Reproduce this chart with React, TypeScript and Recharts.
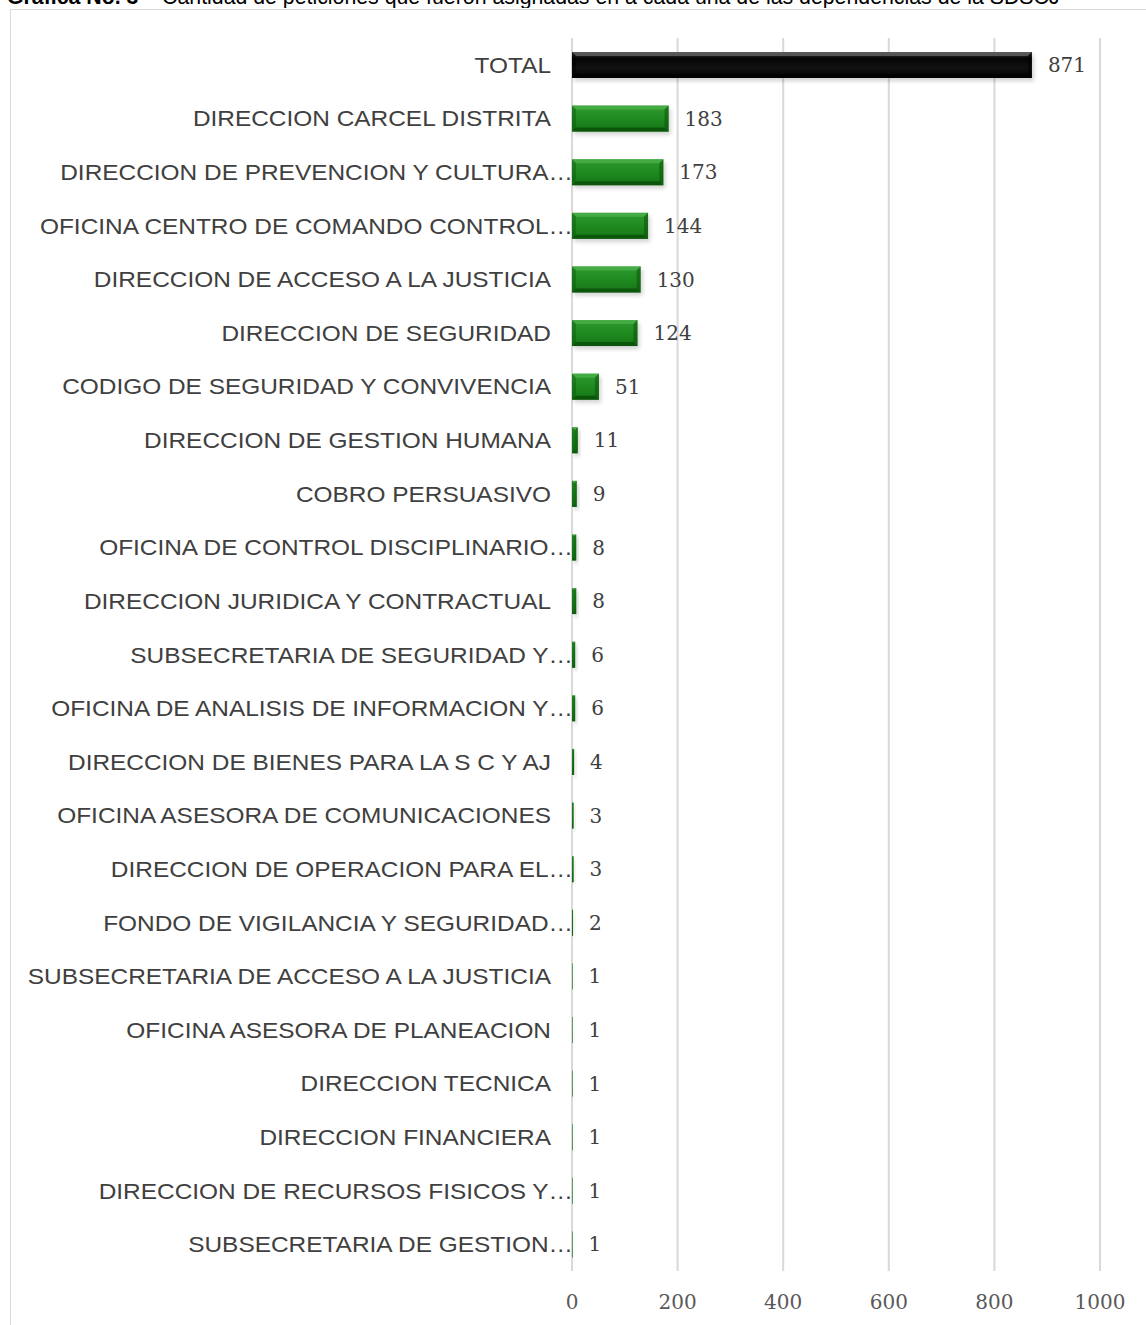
import React from 'react';
import { BarChart, Bar, XAxis, YAxis, CartesianGrid, Cell, LabelList } from 'recharts';

const dependencias = [
  'TOTAL',
  'DIRECCION CARCEL DISTRITA',
  'DIRECCION DE PREVENCION Y CULTURA…',
  'OFICINA CENTRO DE COMANDO CONTROL…',
  'DIRECCION DE ACCESO A LA JUSTICIA',
  'DIRECCION DE SEGURIDAD',
  'CODIGO DE SEGURIDAD Y CONVIVENCIA',
  'DIRECCION DE GESTION HUMANA',
  'COBRO PERSUASIVO',
  'OFICINA DE CONTROL DISCIPLINARIO…',
  'DIRECCION JURIDICA Y CONTRACTUAL',
  'SUBSECRETARIA DE SEGURIDAD Y…',
  'OFICINA DE ANALISIS DE INFORMACION Y…',
  'DIRECCION DE BIENES PARA LA S C Y AJ',
  'OFICINA ASESORA DE COMUNICACIONES',
  'DIRECCION DE OPERACION PARA EL…',
  'FONDO DE VIGILANCIA Y SEGURIDAD…',
  'SUBSECRETARIA DE ACCESO A LA JUSTICIA',
  'OFICINA ASESORA DE PLANEACION',
  'DIRECCION TECNICA',
  'DIRECCION FINANCIERA',
  'DIRECCION DE RECURSOS FISICOS Y…',
  'SUBSECRETARIA DE GESTION…',
];

const peticiones = [871, 183, 173, 144, 130, 124, 51, 11, 9, 8, 8, 6, 6, 4, 3, 3, 2, 1, 1, 1, 1, 1, 1];

const xTicks = [0, 200, 400, 600, 800, 1000];

const data = dependencias.map((name, i) => ({ name, value: peticiones[i] }));

const serif = '"DejaVu Serif", "Liberation Serif", serif';
const sans = '"Liberation Sans", Arial, sans-serif';

function BevelBar(props: any) {
  const { x, y, width, height, index } = props;
  if (width <= 0 || height <= 0) return null;
  const total = index === 0;
  const b = Math.min(4, width / 2);
  const fill = total ? 'url(#gBlack)' : 'url(#gGreen)';
  const light = total ? '#6a6a6a' : '#4fb34f';
  const dark = total ? '#000000' : '#0a4d0a';
  return (
    <g>
      <rect x={x + 2} y={y + 3} width={width} height={height} fill="#000" opacity={0.18} filter="url(#blur)" />
      <rect x={x} y={y} width={width} height={height} fill={fill} />
      <polygon points={`${x},${y} ${x + width},${y} ${x + width - b},${y + b} ${x + b},${y + b}`} fill={light} opacity={0.7} />
      <polygon points={`${x},${y + height} ${x + width},${y + height} ${x + width - b},${y + height - b} ${x + b},${y + height - b}`} fill={dark} opacity={0.8} />
      <polygon points={`${x},${y} ${x + b},${y + b} ${x + b},${y + height - b} ${x},${y + height}`} fill={dark} opacity={0.35} />
      <polygon points={`${x + width},${y} ${x + width - b},${y + b} ${x + width - b},${y + height - b} ${x + width},${y + height}`} fill={dark} opacity={0.5} />
    </g>
  );
}

// Excel lets the ellipsis of cut labels run up to the axis
function CatTick(props: any) {
  const { x, y, payload } = props;
  const cut = String(payload.value).endsWith('…');
  const tx = cut ? x + 22 : x;
  return (
    <g transform={`translate(${tx},${y}) scale(1.11,1)`}>
      <text x={0} y={0} dy={8} textAnchor="end" fill="#404040" fontSize={22} fontFamily={sans}>
        {payload.value}
      </text>
    </g>
  );
}

export default function App() {
  return (
    <div style={{ position: 'absolute', left: 0, top: 0, width: 1146, height: 1325, background: '#fff', overflow: 'hidden' }}>
      <div style={{ position: 'absolute', left: 7, top: 0, height: 8, width: 1139, overflow: 'hidden' }}>
        <div style={{ position: 'absolute', left: 0, top: -15, whiteSpace: 'nowrap', fontFamily: sans, fontSize: 21.3, color: '#000' }}>
          <b>Gráfica No. 3</b> – Cantidad de peticiones que fueron asignadas en a cada una de las dependencias de la SDSCJ
        </div>
      </div>
      <div style={{ position: 'absolute', left: 10, top: 9, width: 1146, height: 1330, border: '1px solid #d9d9d9', boxSizing: 'border-box' }} />
      <div style={{ position: 'absolute', left: 10, top: 9 }}>
        <BarChart
          width={1136}
          height={1316}
          data={data}
          layout="vertical"
          margin={{ top: 29, right: 46, bottom: 14, left: 0 }}
          barSize={26}
        >
          <defs>
            <linearGradient id="gGreen" x1="0" y1="0" x2="0" y2="1">
              <stop offset="0%" stopColor="#2f9a2f" />
              <stop offset="50%" stopColor="#1f8a1f" />
              <stop offset="100%" stopColor="#167516" />
            </linearGradient>
            <linearGradient id="gBlack" x1="0" y1="0" x2="0" y2="1">
              <stop offset="0%" stopColor="#3a3a3a" />
              <stop offset="25%" stopColor="#050505" />
              <stop offset="60%" stopColor="#111" />
              <stop offset="100%" stopColor="#000" />
            </linearGradient>
            <filter id="blur" x="-10%" y="-50%" width="120%" height="200%">
              <feGaussianBlur stdDeviation="2" />
            </filter>
          </defs>
          <CartesianGrid horizontal={false} stroke="#d9d9d9" strokeWidth={2} />
          <XAxis
            type="number"
            domain={[0, 1000]}
            ticks={xTicks}
            axisLine={false}
            tickLine={false}
            tickMargin={18}
            height={40}
            tick={{ fill: '#595959', fontSize: 20, fontFamily: serif }}
          />
          <YAxis
            type="category"
            dataKey="name"
            width={562}
            axisLine={false}
            tickLine={false}
            tickMargin={15}
            interval={0}
            tick={<CatTick />}
          />
          <Bar dataKey="value" isAnimationActive={false} shape={<BevelBar />}>
            {data.map((d, i) => (
              <Cell key={d.name} fill={i === 0 ? '#000' : '#1f8a1f'} />
            ))}
            <LabelList dataKey="value" position="right" offset={16} fill="#404040" fontSize={20} fontFamily={serif} />
          </Bar>
        </BarChart>
      </div>
    </div>
  );
}
